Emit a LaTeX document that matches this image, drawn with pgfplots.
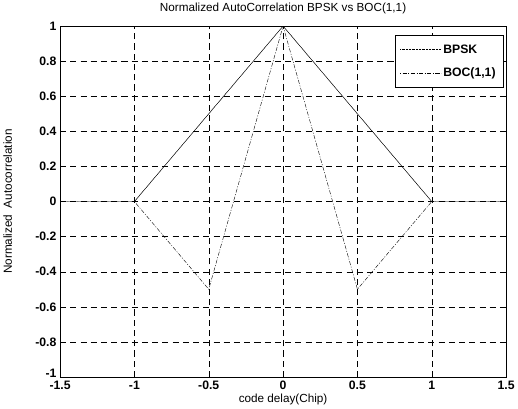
\documentclass[border=0pt]{standalone}
\usepackage{pgfplots}
\pgfplotsset{compat=1.18}
\usepackage{fontspec}
\setmainfont{Liberation Sans}
\begin{document}
\begin{tikzpicture}[x=1bp,y=1bp]
\begin{axis}[
  scale only axis,
  width=436bp, height=343bp,
  xmin=-1.5, xmax=1.5, ymin=-1, ymax=1,
  xtick={-1.5,-1,-0.5,0,0.5,1,1.5},
  ytick={-1,-0.8,-0.6,-0.4,-0.2,0,0.2,0.4,0.6,0.8,1},
  xticklabels={-1.5,-1,-0.5,0,0.5,1,1.5},
  yticklabels={\raisebox{8bp}{-1},-0.8,-0.6,-0.4,-0.2,0,0.2,0.4,0.6,0.8,\raisebox{-2bp}{1}},
  tick align=inside, major tick length=3bp,
  tick style={black, thin},
  grid=major,
  major grid style={black, thin, dash pattern=on 6bp off 4bp},
  axis line style={black, thin},
  title={Normalized AutoCorrelation BPSK vs BOC(1,1)},
  title style={font=\fontsize{11.5}{13}\selectfont, yshift=2bp},
  xlabel={code delay(Chip)},
  ylabel={Normalized\ \ Autocorrelation},
  xlabel style={font=\fontsize{11.5}{13}\selectfont, yshift=2bp},
  ylabel style={font=\fontsize{11.5}{13}\selectfont, yshift=16bp},
  xticklabel style={font=\fontsize{12}{13}\selectfont\bfseries, yshift=0bp},
  yticklabel style={font=\fontsize{12}{13}\selectfont\bfseries},
  legend style={at={(0.993,0.974)}, anchor=north east, draw=black, thin,
    font=\fontsize{12}{14}\selectfont\bfseries, row sep=9bp, inner xsep=5bp, inner ysep=7bp},
  legend image code/.code={\draw[#1] (0bp,0bp) -- (40bp,0bp);},
  legend cell align=left,
]
\addplot[black, thin, densely dotted] coordinates {(-1.5,0) (-1,0) (0,1) (1,0) (1.5,0)};
\addlegendentry{BPSK}
\addplot[black, thin, dash pattern=on 1bp off 1.5bp on 4bp off 1.5bp] coordinates {(-1,0) (-0.5,-0.5) (0,1) (0.5,-0.5) (1,0)};
\addlegendentry{BOC(1,1)}
\addplot[black, thin, forget plot] coordinates {(-1.5,0) (-1,0) (0,1) (1,0) (1.5,0)};
\end{axis}
\end{tikzpicture}
\end{document}
